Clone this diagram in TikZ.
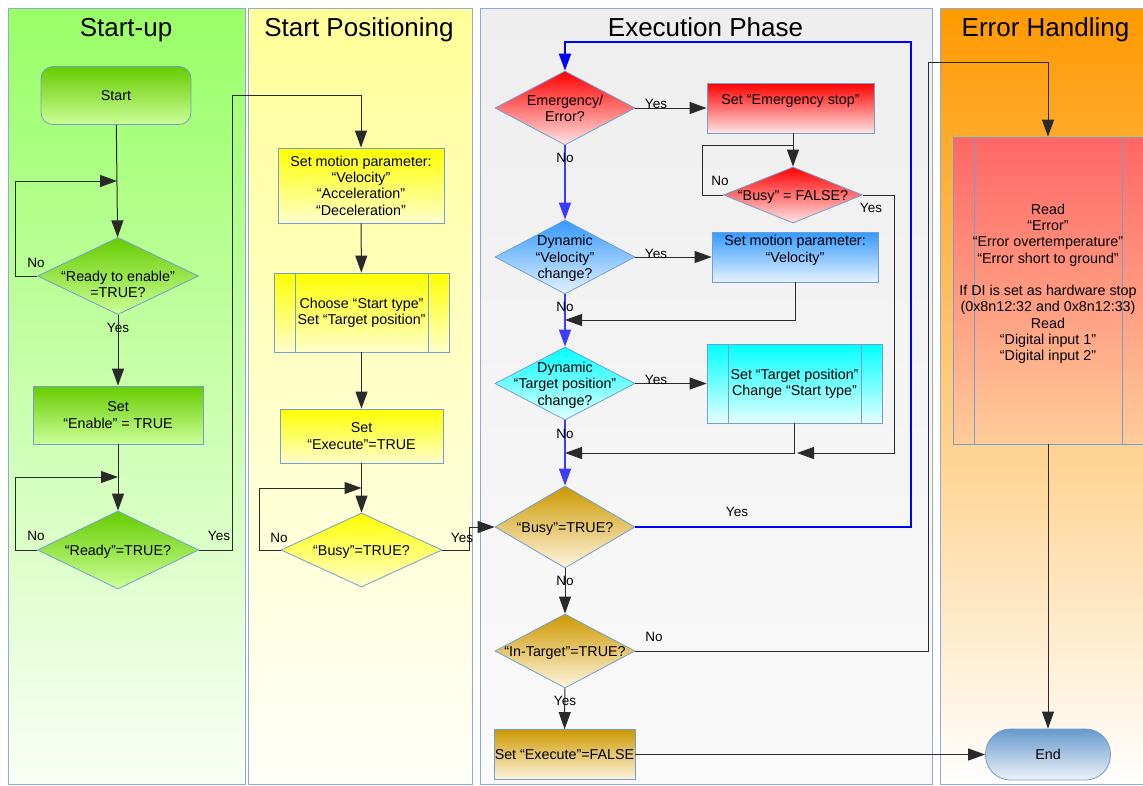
\documentclass[tikz,border=0pt]{standalone}
\usepackage{fontspec}
\setmainfont{Liberation Sans}
\usetikzlibrary{arrows.meta,shapes.geometric}

\definecolor{lanebd}{HTML}{8EAADB}
\definecolor{shapebd}{HTML}{729FCF}
\definecolor{linecol}{HTML}{2A2A2A}
\definecolor{loopblue}{HTML}{0000FF}
\definecolor{noblue}{HTML}{3C3CFF}
\definecolor{laneAtop}{HTML}{99FF66}
\definecolor{laneAbot}{HTML}{FAFFF5}
\definecolor{laneBtop}{HTML}{FFFF99}
\definecolor{laneBbot}{HTML}{FFFFF8}
\definecolor{laneCtop}{HTML}{EEEEEE}
\definecolor{laneCbot}{HTML}{FAFAFA}
\definecolor{laneDtop}{HTML}{FF9900}
\definecolor{laneDbot}{HTML}{FFFFFF}
\definecolor{gtop}{HTML}{66CC00}
\definecolor{gbot}{HTML}{CCFF99}
\definecolor{ytop}{HTML}{FFFF00}
\definecolor{ybot}{HTML}{FFFFCC}
\definecolor{rtop}{HTML}{FF0000}
\definecolor{rbot}{HTML}{FFE5E5}
\definecolor{btop}{HTML}{3399FF}
\definecolor{bbot}{HTML}{E5F2FF}
\definecolor{ctop}{HTML}{00FFFF}
\definecolor{cbot}{HTML}{E5FFFF}
\definecolor{otop}{HTML}{CC9900}
\definecolor{obot}{HTML}{FFF5E0}
\definecolor{etop}{HTML}{FF6666}
\definecolor{ebot}{HTML}{FFCC99}
\definecolor{ntop}{HTML}{6699CC}
\definecolor{nbot}{HTML}{EEF3FA}

\newcommand{\nodetxt}{\fontsize{14.3}{16.3}\selectfont}
\newcommand{\lbltxt}{\fontsize{13.5}{15}\selectfont}
\newcommand{\ttltxt}{\fontsize{26}{30}\selectfont}
\newcommand{\diatext}[1]{\makebox[0pt]{\smash{\raisebox{\dimexpr(\depth-\height)/2-2pt\relax}{\begin{tabular}{@{}c@{}}#1\end{tabular}}}}}

\tikzset{
    >={Triangle[length=17pt,width=12pt]},
    lane/.style={draw=lanebd, line width=0.8pt},
    ttl/.style={font=\ttltxt, inner sep=0pt, anchor=base},
    box/.style={rectangle, draw=shapebd, line width=0.8pt, inner sep=0pt, align=center, font=\nodetxt},
    term/.style={box, rounded corners=12pt},
    dia/.style={diamond, draw=shapebd, line width=0.8pt, inner sep=0pt, font=\nodetxt},
    pproc/.style={box, path picture={
        \draw [shapebd, line width=0.8pt]
            ([xshift=21pt]path picture bounding box.north west) -- ([xshift=21pt]path picture bounding box.south west)
            ([xshift=-21pt]path picture bounding box.north east) -- ([xshift=-21pt]path picture bounding box.south east);}},
    lbl/.style={font=\lbltxt, inner sep=0pt},
    flow/.style={->, draw=linecol, line width=1pt},
    bflow/.style={->, draw=noblue, line width=1.5pt},
    bloop/.style={->, draw=loopblue, line width=2pt},
    gfill/.style={top color=gtop, bottom color=gbot},
    yfill/.style={top color=ytop, bottom color=ybot},
    rfill/.style={top color=rtop, bottom color=rbot},
    bfill/.style={top color=btop, bottom color=bbot},
    cfill/.style={top color=ctop, bottom color=cbot},
    ofill/.style={top color=otop, bottom color=obot},
    efill/.style={top color=etop, bottom color=ebot},
    nfill/.style={top color=ntop, bottom color=nbot}
}

\begin{document}
\begin{tikzpicture}[x=1pt, y=-1pt]

    \useasboundingbox (0,0) rectangle (1143,785);
    \fill [white] (0,0) rectangle (1143,785);

    \draw [lane, top color=laneAtop, bottom color=laneAbot] (8,8) rectangle (245,784);
    \draw [lane, top color=laneBtop, bottom color=laneBbot] (248,8) rectangle (472,784);
    \draw [lane, top color=laneCtop, bottom color=laneCbot] (480,8) rectangle (932,784);
    \draw [lane, top color=laneDtop, bottom color=laneDbot] (940,8) rectangle (1150,784);

    \node [ttl] (t1) at (126,36.5) {Start-up};
    \node [ttl] (t2) at (359,36.5) {Start Positioning};
    \node [ttl] (t3) at (705.5,36.5) {Execution Phase};
    \node [ttl] (t4) at (1045.5,36.5) {Error Handling};

    \node [term, gfill, minimum width=150pt, minimum height=58pt] (start) at (116,95.5) {Start};
    \node [dia, gfill, minimum width=161pt, minimum height=77pt] (rte) at (118,276) {\diatext{\mbox{}\\“Ready to enable”\\=TRUE?}};
    \node [box, gfill, minimum width=170pt, minimum height=58pt] (en) at (118,415) {Set\\“Enable” = TRUE};
    \node [dia, gfill, minimum width=161pt, minimum height=78pt] (rdy) at (118,550) {\diatext{“Ready”=TRUE?}};

    \node [box, yfill, minimum width=166pt, minimum height=75pt] (smp) at (361,185.5) {Set motion parameter:\\“Velocity”\\“Acceleration”\\“Deceleration”};
    \node [pproc, yfill, minimum width=175pt, minimum height=79pt] (cst) at (361.5,312.5) {Choose “Start type”\\Set “Target position”};
    \node [box, yfill, minimum width=163pt, minimum height=54pt] (sex) at (361.5,436) {Set\\“Execute”=TRUE};
    \node [dia, yfill, minimum width=161pt, minimum height=74pt] (bsy) at (361.5,550) {\diatext{“Busy”=TRUE?}};

    \node [dia, rfill, minimum width=140pt, minimum height=74pt] (emg) at (565,108) {\diatext{Emergency/\\Error?}};
    \node [box, rfill, minimum width=167pt, minimum height=50pt] (ems) at (790.5,108) {Set “Emergency stop”\\\mbox{}};
    \node [dia, rfill, minimum width=139pt, minimum height=56pt] (bfl) at (793,195) {\diatext{“Busy” = FALSE?}};
    \node [dia, bfill, minimum width=140pt, minimum height=74pt] (vel) at (565,257) {\diatext{Dynamic\\“Velocity”\\change?}};
    \node [box, bfill, minimum width=166pt, minimum height=50pt] (smv) at (795,257) {Set motion parameter:\\“Velocity”\\\mbox{}};
    \node [dia, cfill, minimum width=140pt, minimum height=73pt] (tgt) at (565,383.5) {\diatext{Dynamic\\“Target position”\\change?}};
    \node [pproc, cfill, minimum width=175pt, minimum height=79pt] (stp) at (794.5,383.5) {Set “Target position”\\Change “Start type”};
    \node [dia, ofill, minimum width=140pt, minimum height=82pt] (bsy2) at (565,527) {\diatext{“Busy”=TRUE?}};
    \node [dia, ofill, minimum width=140pt, minimum height=74pt] (itg) at (565,651) {\diatext{“In-Target”=TRUE?}};
    \node [box, ofill, minimum width=141pt, minimum height=50pt] (sef) at (564.5,754.5) {Set “Execute”=FALSE};

    \node [pproc, efill, minimum width=190pt, minimum height=307pt] (err) at (1048,290.5) {Read\\“Error”\\“Error overtemperature”\\“Error short to ground”\\\mbox{}\\If DI is set as hardware stop\\(0x8n12:32 and 0x8n12:33)\\Read\\“Digital input 1”\\“Digital input 2”\\\mbox{}};
    \node [term, nfill, rounded corners=25pt, minimum width=125pt, minimum height=51pt] (fin) at (1048,754.5) {End};

    \coordinate (j1) at (117,181);
    \coordinate (j2) at (118,477);
    \coordinate (c1) at (232,95);
    \coordinate (j3) at (361.5,488);
    \coordinate (j4) at (793,145);
    \coordinate (j5) at (565,320);
    \coordinate (j6) at (797,453);
    \coordinate (j7) at (565,453);
    \coordinate (c2) at (911,42);
    \coordinate (c3) at (928,62);

    \draw [flow] (start) -- (rte);
    \draw [flow] (rte.west) -- ++(-22,0) |- (j1) node [lbl] (n1) at (36,263) {No};
    \draw [flow] (rte) -- (en) node [lbl] (y1) at (118,328) {Yes};
    \draw [flow] (en) -- (rdy);
    \draw [flow] (rdy.west) -- ++(-22,0) |- (j2) node [lbl] (n2) at (36,536) {No};
    \draw [flow] (rdy.east) -| (c1) -| (smp.north) node [lbl] (y2) at (219,536) {Yes};

    \draw [flow] (smp) -- (cst);
    \draw [flow] (cst) -- (sex);
    \draw [flow] (sex) -- (bsy);
    \draw [flow] (bsy.west) -- ++(-21,0) |- (j3) node [lbl] (n3) at (279,538) {No};
    \draw [flow] (bsy.east) -- ++(27,0) |- (bsy2.west) node [lbl] (y3) at (462,538) {Yes};

    \draw [flow] (emg) -- (ems) node [lbl] (y4) at (656,104) {Yes};
    \draw [flow] (ems.south -| bfl.north) -- (bfl.north);
    \draw [draw=linecol, line width=1pt] (bfl.west) -- ++(-21,0) |- (j4) node [lbl] (n5) at (720,181) {No};
    \draw [flow] (bfl.east) -- ++(32,0) |- (j6) node [lbl] (y5) at (871,208) {Yes};
    \draw [bflow] (emg) -- (vel) node [lbl] (n4) at (565,158) {No};
    \draw [flow] (vel) -- (smv) node [lbl] (y6) at (656,254) {Yes};
    \draw [flow] (smv.south) |- (j5);
    \draw [bflow] (vel) -- (tgt) node [lbl] (n6) at (565,307) {No};
    \draw [flow] (tgt) -- (stp) node [lbl] (y7) at (656,380) {Yes};
    \draw [flow] (stp.south) |- (j7);
    \draw [bflow] (tgt) -- (bsy2) node [lbl] (n7) at (565,434) {No};
    \draw [bloop] (bsy2.east) -| (c2) -| (emg.north) node [lbl] (y8) at (737,512) {Yes};
    \draw [flow] (bsy2) -- (itg) node [lbl] (n8) at (565,581) {No};
    \draw [flow] (itg.east) -| (c3) -| (err.north) node [lbl] (n9) at (654,637) {No};
    \draw [flow] (itg) -- (sef) node [lbl] (y9) at (565,701) {Yes};
    \draw [flow] (sef) -- (fin);
    \draw [flow] (err) -- (fin);

\end{tikzpicture}
\end{document}
